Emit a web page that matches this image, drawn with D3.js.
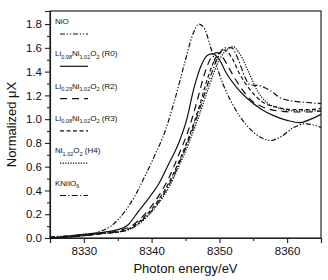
<!DOCTYPE html>
<html>
<head>
<meta charset="utf-8">
<script src="https://cdn.jsdelivr.net/npm/d3@7"></script>
<style>
  body { margin: 0; background: #fff; }
  text { font-family: "Liberation Sans", Arial, sans-serif; fill: #111; }
</style>
</head>
<body>
<div id="chart"></div>
<script>
// -----------------------------------------------------------------------
//  data (photon energy in eV, normalized uX)
// -----------------------------------------------------------------------
const energy_NiO  = [8325, 8328, 8330, 8332, 8334, 8336, 8337.5, 8339, 8340.5, 8342, 8343.5, 8345, 8346, 8347, 8347.8, 8349, 8350.5, 8352, 8354, 8356, 8357.5, 8359, 8361, 8362.5, 8364, 8365];
const mu_NiO      = [0.01, 0.02, 0.03, 0.05, 0.10, 0.22, 0.35, 0.52, 0.70, 0.90, 1.18, 1.50, 1.70, 1.80, 1.76, 1.55, 1.30, 1.12, 0.95, 0.85, 0.82, 0.85, 0.93, 0.96, 0.95, 0.93];

const energy_R0 = [8325, 8330, 8333, 8335, 8336.5, 8338, 8339.5, 8341, 8342.5, 8344, 8345.2, 8346.2, 8347.3, 8348.3, 8349, 8350, 8351, 8352.5, 8354, 8356.3, 8358, 8360, 8361.8, 8363.5, 8365];
const mu_R0     = [0.0, 0.03, 0.05, 0.07, 0.11, 0.22, 0.33, 0.45, 0.62, 0.80, 1.0, 1.25, 1.45, 1.54, 1.55, 1.50, 1.39, 1.27, 1.18, 1.08, 1.03, 0.99, 0.97, 1.0, 1.04];

const energy_R2 = [8325, 8330, 8333, 8335, 8337, 8339, 8341, 8342.5, 8344, 8345.5, 8346.7, 8347.8, 8348.8, 8349.6, 8350.5, 8351.5, 8353, 8354.5, 8356.5, 8358.5, 8361, 8363, 8365];
const mu_R2     = [0, 0.02, 0.04, 0.06, 0.10, 0.20, 0.35, 0.50, 0.70, 0.92, 1.15, 1.38, 1.52, 1.56, 1.52, 1.42, 1.28, 1.17, 1.10, 1.07, 1.06, 1.06, 1.07];

const energy_R3 = [8325, 8330, 8333, 8335, 8337, 8339, 8341, 8342.5, 8344, 8345.5, 8347, 8348.3, 8349.5, 8350.8, 8351.8, 8353, 8354.5, 8356.5, 8358.5, 8361, 8363, 8365];
const mu_R3     = [0, 0.02, 0.04, 0.05, 0.09, 0.18, 0.32, 0.46, 0.64, 0.85, 1.10, 1.35, 1.52, 1.58, 1.52, 1.38, 1.25, 1.14, 1.10, 1.08, 1.08, 1.09];

const energy_H4 = [8325, 8330, 8333, 8335, 8337, 8339, 8341, 8342.5, 8344, 8345.5, 8347, 8348.5, 8350, 8351, 8352, 8353, 8354.3, 8355.5, 8357, 8359, 8361, 8363, 8365];
const mu_H4     = [0, 0.02, 0.04, 0.05, 0.08, 0.16, 0.29, 0.42, 0.60, 0.80, 1.03, 1.28, 1.50, 1.58, 1.61, 1.55, 1.40, 1.25, 1.14, 1.09, 1.07, 1.07, 1.07];

const energy_K = [8325, 8330, 8333, 8335, 8337, 8339, 8341, 8342.5, 8344, 8345.5, 8347, 8348.5, 8349.8, 8350.8, 8351.8, 8352.8, 8353.8, 8354.5, 8356, 8357.5, 8359, 8361, 8363, 8365];
const mu_K     = [0, 0.02, 0.04, 0.05, 0.08, 0.17, 0.30, 0.44, 0.62, 0.83, 1.07, 1.33, 1.52, 1.60, 1.60, 1.50, 1.35, 1.29, 1.28, 1.24, 1.18, 1.15, 1.14, 1.13];

const x_ticks = [8330, 8340, 8350, 8360];
const y_ticks = [0.0, 0.2, 0.4, 0.6, 0.8, 1.0, 1.2, 1.4, 1.6, 1.8];

// legend labels as [text, subscript] pieces
const series = [
    {name: [["NiO", ""]],                                    x: energy_NiO, y: mu_NiO, dash: "5,1.8,1.3,1.8,1.3,1.8"},
    {name: [["Li", "0.98"], ["Ni", "1.02"], ["O", "2"], [" (R0)", ""]], x: energy_R0, y: mu_R0, dash: null},
    {name: [["Li", "0.29"], ["Ni", "1.02"], ["O", "2"], [" (R2)", ""]], x: energy_R2, y: mu_R2, dash: "7,5"},
    {name: [["Li", "0.08"], ["Ni", "1.02"], ["O", "2"], [" (R3)", ""]], x: energy_R3, y: mu_R3, dash: "4,2.5"},
    {name: [["Ni", "1.02"], ["O", "2"], [" (H4)", ""]],              x: energy_H4, y: mu_H4, dash: "1.3,1.3"},
    {name: [["KNiIO", "6"]],                                 x: energy_K,  y: mu_K,  dash: "6,2.2,1.3,2.2"}
];

// -----------------------------------------------------------------------
const width = 328, height = 280;
const margins = {top: 11, right: 7, bottom: 42, left: 50};

const svg = d3.select("#chart").append("svg")
    .attr("width", width)
    .attr("height", height);

const x_scale = d3.scaleLinear().domain([8325, 8365]).range([margins.left, width - margins.right]);
const y_scale = d3.scaleLinear().domain([0, 1.91]).range([height - margins.bottom, margins.top]);

// frame
svg.append("rect")
    .attr("x", margins.left).attr("y", margins.top)
    .attr("width", width - margins.left - margins.right)
    .attr("height", height - margins.top - margins.bottom)
    .attr("fill", "none").attr("stroke", "#222").attr("stroke-width", 1.2);

// axes
svg.append("g")
    .attr("transform", `translate(0,${height - margins.bottom})`)
    .call(d3.axisBottom(x_scale).tickValues(x_ticks).tickSize(5).tickPadding(4).tickFormat(d3.format("d")));
svg.append("g")
    .attr("transform", `translate(0,${height - margins.bottom})`)
    .call(d3.axisBottom(x_scale).tickValues([8335, 8345, 8355]).tickSize(3).tickFormat(""))
    .select(".domain").remove();

svg.append("g")
    .attr("transform", `translate(${margins.left},0)`)
    .call(d3.axisLeft(y_scale).tickValues(y_ticks).tickSize(5).tickPadding(3).tickFormat(d3.format(".1f")));
svg.append("g")
    .attr("transform", `translate(${margins.left},0)`)
    .call(d3.axisLeft(y_scale).tickValues(d3.range(0.1, 1.9, 0.2)).tickSize(3).tickFormat(""))
    .select(".domain").remove();

svg.selectAll(".domain").attr("stroke", "#222").attr("stroke-width", 1.2);
svg.selectAll(".tick line").attr("stroke", "#222").attr("stroke-width", 1.1);
svg.selectAll(".tick text").attr("font-size", 11.5).attr("fill", "#111")
    .attr("font-family", "Liberation Sans, Arial, sans-serif");

// axis titles
svg.append("text")
    .attr("x", (margins.left + width - margins.right) / 2)
    .attr("y", 273)
    .attr("text-anchor", "middle")
    .attr("font-size", 13)
    .text("Photon energy/eV");

svg.append("text")
    .attr("transform", `translate(16,${(margins.top + height - margins.bottom) / 2}) rotate(-90)`)
    .attr("text-anchor", "middle")
    .attr("font-size", 13)
    .text("Normalized \u03BCX");

// curves
const line = d3.line()
    .x(d => x_scale(d[0]))
    .y(d => y_scale(d[1]))
    .curve(d3.curveMonotoneX);

series.forEach(s => {
    svg.append("path")
        .datum(s.x.map((e, i) => [e, s.y[i]]))
        .attr("d", line)
        .attr("fill", "none")
        .attr("stroke", "#111")
        .attr("stroke-width", 1.2)
        .attr("stroke-dasharray", s.dash);
});

// legend
const legend = svg.append("g").attr("transform", "translate(55,0)");
series.forEach((s, i) => {
    const ty = 24 + i * 32.3;
    const t = legend.append("text")
        .attr("x", 0).attr("y", ty)
        .attr("font-size", 8)
        .attr("fill", "#000");
    let shifted = false;
    s.name.forEach(p => {
        const main = t.append("tspan").text(p[0]);
        if (shifted) { main.attr("dy", -2.5); shifted = false; }
        if (p[1]) {
            t.append("tspan").attr("font-size", 5.5).attr("dy", 2.5).text(p[1]);
            shifted = true;
        }
    });
    legend.append("line")
        .attr("x1", 5).attr("x2", 33)
        .attr("y1", ty + 10).attr("y2", ty + 10)
        .attr("stroke", "#111")
        .attr("stroke-width", 1.2)
        .attr("stroke-dasharray", s.dash);
});
</script>
</body>
</html>
